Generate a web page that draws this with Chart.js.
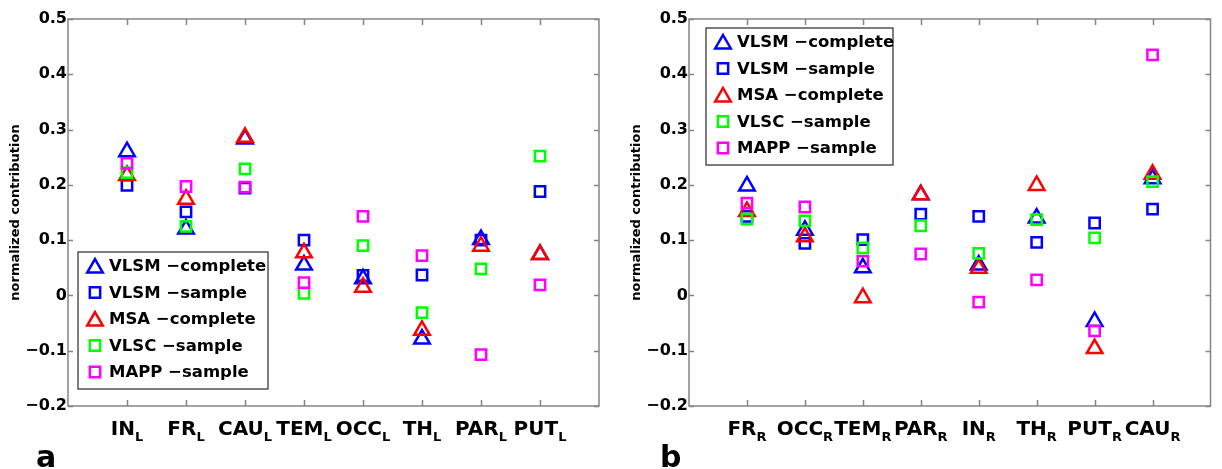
<!DOCTYPE html>
<html>
<head>
<meta charset="utf-8">
<script src="https://cdn.jsdelivr.net/npm/chart.js@4/dist/chart.umd.min.js"></script>
<style>
  body { margin: 0; background: #fff; width: 1222px; height: 469px; position: relative; overflow: hidden; }
  #wrapA { position: absolute; left: 0; top: 0; width: 620px; height: 469px; }
  #wrapB { position: absolute; left: 620px; top: 0; width: 602px; height: 469px; }
</style>
</head>
<body>
<div id="wrapA"><canvas id="chartA" width="620" height="469"></canvas></div>
<div id="wrapB"><canvas id="chartB" width="602" height="469"></canvas></div>
<script>
// series shared by both panels
const seriesNames = ['VLSM \u2212complete', 'VLSM \u2212sample', 'MSA \u2212complete', 'VLSC \u2212sample', 'MAPP \u2212sample'];
const seriesColors = ['#0000ff', '#0000ff', '#ff0000', '#00ff00', '#ff00ff'];
const seriesShapes = ['triangle', 'rect', 'triangle', 'rect', 'rect'];

const yTicks = [-0.2, -0.1, 0, 0.1, 0.2, 0.3, 0.4, 0.5];

// panel a (left hemisphere)
const regionsL = ['IN', 'FR', 'CAU', 'TEM', 'OCC', 'TH', 'PAR', 'PUT'];
const vlsmCompleteL = [0.260, 0.120, 0.283, 0.055, 0.030, -0.079, 0.101, 0.074];
const vlsmSampleL   = [0.199, 0.151, 0.194, 0.100, 0.036, 0.037, 0.100, 0.188];
const msaCompleteL  = [0.217, 0.174, 0.286, 0.077, 0.015, -0.063, 0.089, 0.074];
const vlscSampleL   = [0.222, 0.125, 0.229, 0.004, 0.090, -0.031, 0.048, 0.252];
const mappSampleL   = [0.239, 0.197, 0.196, 0.023, 0.143, 0.072, -0.107, 0.019];

// panel b (right hemisphere)
const regionsR = ['FR', 'OCC', 'TEM', 'PAR', 'IN', 'TH', 'PUT', 'CAU'];
const vlsmCompleteR = [0.198, 0.118, 0.050, 0.182, 0.055, 0.140, -0.047, 0.211];
const vlsmSampleR   = [0.143, 0.094, 0.101, 0.147, 0.143, 0.096, 0.131, 0.156];
const msaCompleteR  = [0.152, 0.106, -0.004, 0.182, 0.049, 0.199, -0.096, 0.219];
const vlscSampleR   = [0.138, 0.135, 0.086, 0.126, 0.076, 0.137, 0.104, 0.206];
const mappSampleR   = [0.167, 0.160, 0.062, 0.075, -0.012, 0.028, -0.064, 0.435];

const FONT = '"DejaVu Sans", sans-serif';

function makeDatasets(series) {
  return series.map((vals, s) => ({
    label: seriesNames[s],
    data: vals.map((v, i) => ({ x: i + 1, y: v })),
    pointStyle: seriesShapes[s],
    pointRadius: seriesShapes[s] === 'triangle' ? 9 : 7.3,
    pointBorderColor: seriesColors[s],
    pointBackgroundColor: 'rgba(0,0,0,0)',
    pointBorderWidth: 2.5,
    showLine: false,
    order: 4 - s   // later series drawn on top, like matlab
  }));
}

function shape(ctx, kind, x, y) {
  ctx.beginPath();
  if (kind === 'triangle') {
    const r = 9;
    ctx.moveTo(x, y - r);
    ctx.lineTo(x + r * 0.866, y + r / 2);
    ctx.lineTo(x - r * 0.866, y + r / 2);
    ctx.closePath();
  } else {
    const h = 7.3 * Math.SQRT1_2;
    ctx.rect(x - h, y - h, 2 * h, 2 * h);
  }
  ctx.stroke();
}

// box, inward ticks, subscripted x labels, inset legend, panel letter
const matlabAxes = {
  id: 'matlabAxes',
  beforeDatasetsDraw(chart, args, o) {
    const { ctx, chartArea: a, scales: { x, y } } = chart;
    ctx.save();
    ctx.strokeStyle = '#858585';
    ctx.lineWidth = 1.5;
    ctx.strokeRect(a.left, a.top, a.right - a.left, a.bottom - a.top);
    ctx.beginPath();
    yTicks.forEach(v => {
      const py = Math.round(y.getPixelForValue(v)) + 0.5;
      ctx.moveTo(a.left, py); ctx.lineTo(a.left + 5, py);
      ctx.moveTo(a.right, py); ctx.lineTo(a.right - 5, py);
    });
    o.names.forEach((n, i) => {
      const px = Math.round(x.getPixelForValue(i + 1)) + 0.5;
      ctx.moveTo(px, a.top); ctx.lineTo(px, a.top + 6);
      ctx.moveTo(px, a.bottom); ctx.lineTo(px, a.bottom - 6);
    });
    ctx.stroke();
    ctx.restore();
  },
  afterDraw(chart, args, o) {
    const { ctx, scales: { x } } = chart;
    ctx.save();
    ctx.fillStyle = '#000';
    ctx.textBaseline = 'alphabetic';
    ctx.textAlign = 'left';
    o.names.forEach((n, i) => {
      const px = x.getPixelForValue(i + 1);
      ctx.font = 'bold 20px ' + FONT;
      const w1 = ctx.measureText(n).width;
      ctx.font = 'bold 13px ' + FONT;
      const w2 = ctx.measureText(o.sub).width;
      const x0 = px - (w1 + w2) / 2;
      ctx.font = 'bold 20px ' + FONT;
      ctx.fillText(n, x0, 435);
      ctx.font = 'bold 13px ' + FONT;
      ctx.fillText(o.sub, x0 + w1, 441);
    });

    // legend
    const L = o.legend;
    ctx.fillStyle = '#fff';
    ctx.fillRect(L.x, L.y, L.w, L.h);
    ctx.strokeStyle = '#3a3a3a';
    ctx.lineWidth = 1.3;
    ctx.strokeRect(L.x, L.y, L.w, L.h);
    ctx.font = 'bold 16.5px ' + FONT;
    ctx.textBaseline = 'middle';
    chart.data.datasets.forEach((ds, s) => {
      const cy = L.y + 14 + s * 26.5;
      ctx.strokeStyle = seriesColors[s];
      ctx.lineWidth = 2.5;
      shape(ctx, seriesShapes[s], L.x + 17, cy + (seriesShapes[s] === 'triangle' ? 2 : 0));
      ctx.fillStyle = '#000';
      ctx.fillText(ds.label, L.x + 31, cy + 1);
    });

    // panel letter
    ctx.font = 'bold 30px ' + FONT;
    ctx.textBaseline = 'alphabetic';
    ctx.fillText(o.letter, o.letterX, 467);
    ctx.restore();
  }
};

function makeChart(id, names, sub, series, yWidth, padRight, titlePad, legend, letter, letterX) {
  return new Chart(document.getElementById(id), {
    type: 'scatter',
    data: { datasets: makeDatasets(series) },
    options: {
      responsive: false,
      animation: false,
      events: [],
      layout: { padding: { left: 0, right: padRight, top: 19, bottom: 0 } },
      scales: {
        x: {
          type: 'linear', min: 0, max: 9,
          grid: { display: false, drawTicks: false },
          border: { display: false },
          ticks: { display: false },
          afterFit: s => { s.height = 63; }
        },
        y: {
          min: -0.2, max: 0.5,
          grid: { display: false, drawTicks: false },
          border: { display: false },
          ticks: {
            stepSize: 0.1, padding: 1, color: '#000',
            font: { family: FONT, size: 16, weight: 'bold' },
            callback: v => {
              const r = Math.round(v * 10) / 10;
              return r === 0 ? '0' : String(r).replace('-', '\u2212');
            }
          },
          title: {
            display: true, text: 'normalized contribution', color: '#000',
            font: { family: FONT, size: 13, weight: 'bold' },
            padding: { top: titlePad, bottom: 0 }
          },
          afterFit: s => { s.width = yWidth; }
        }
      },
      plugins: {
        legend: { display: false },
        tooltip: { enabled: false },
        matlabAxes: { names, sub, legend, letter, letterX }
      }
    },
    plugins: [matlabAxes]
  });
}

makeChart('chartA', regionsL, 'L',
  [vlsmCompleteL, vlsmSampleL, msaCompleteL, vlscSampleL, mappSampleL],
  68, 21, 8, { x: 78, y: 252, w: 190, h: 137 }, 'a', 36);

makeChart('chartB', regionsR, 'R',
  [vlsmCompleteR, vlsmSampleR, msaCompleteR, vlscSampleR, mappSampleR],
  69, 3, 9, { x: 86, y: 28, w: 187, h: 137 }, 'b', 40);
</script>
</body>
</html>
